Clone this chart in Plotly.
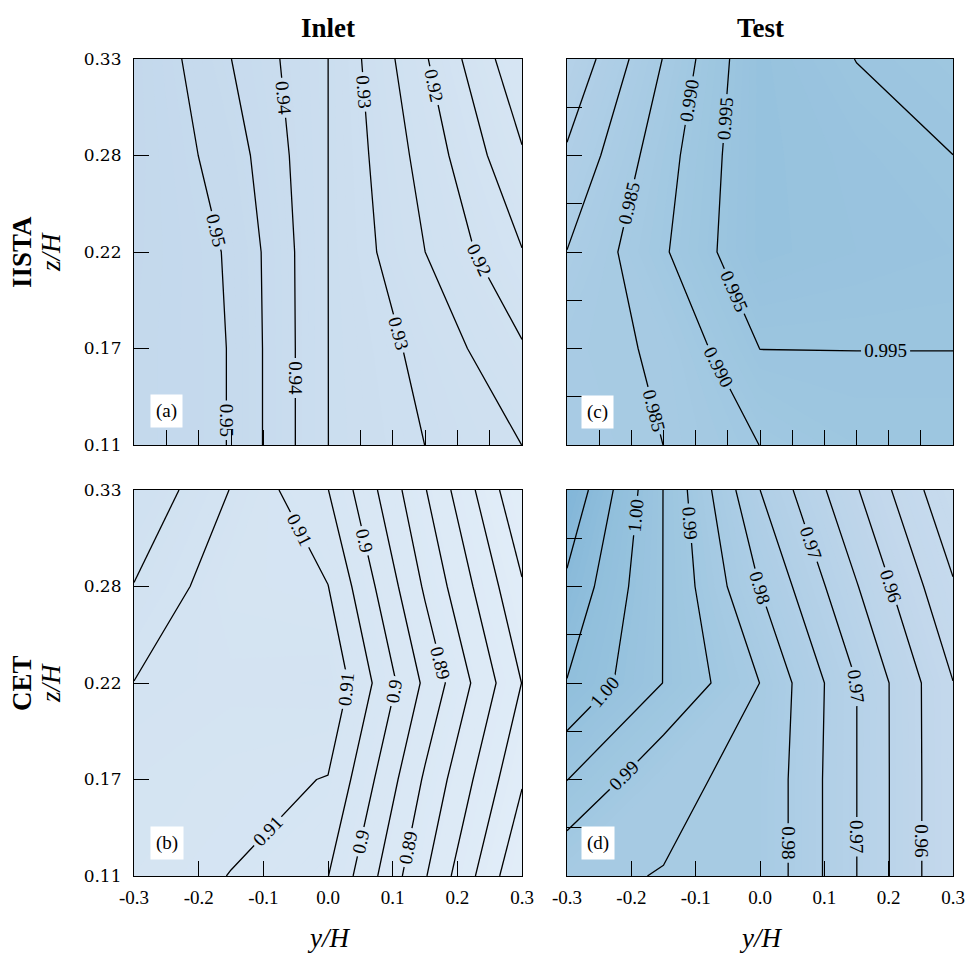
import plotly.graph_objects as go

# Measurement grid: spanwise position y/H (columns) and height z/H (rows)
y_pos = [-0.3, -0.15, 0.0, 0.15, 0.3]
z_pos = [0.11, 0.165, 0.22, 0.275, 0.33]

# Normalised velocity, one row per z/H level (bottom row first)
iista_inlet = [
    [0.9540, 0.9498, 0.93502, 0.92998, 0.92498],
    [0.9540, 0.9498, 0.93502, 0.92850, 0.92050],
    [0.9545, 0.9495, 0.93502, 0.92502, 0.91520],
    [0.9549, 0.9475, 0.93502, 0.92310, 0.91050],
    [0.9548, 0.94505, 0.93502, 0.92050, 0.90600],
]
cet_inlet = [
    [0.9120, 0.9099, 0.9051, 0.8854, 0.8654],
    [0.9130, 0.9115, 0.9098, 0.8893, 0.8705],
    [0.9149, 0.9135, 0.9142, 0.8940, 0.8749],
    [0.9198, 0.9115, 0.9101, 0.8893, 0.8705],
    [0.9245, 0.9148, 0.9051, 0.8853, 0.8654],
]
iista_test = [
    [0.9830, 0.98501, 0.99005, 0.99300, 0.99300],
    [0.9836, 0.98550, 0.99505, 0.99505, 0.99505],
    [0.9801, 0.98940, 0.99950, 0.99800, 0.99700],
    [0.9757, 0.98800, 0.99950, 0.99750, 0.99502],
    [0.9706, 0.98520, 0.99950, 0.99490, 0.99250],
]
cet_test = [
    [0.9855, 0.9849, 0.98410, 0.97005, 0.9552],
    [0.9951, 0.9858, 0.98410, 0.97005, 0.9552],
    [1.0048, 0.9949, 0.98495, 0.97005, 0.9551],
    [1.0090, 0.9949, 0.97990, 0.96530, 0.9505],
    [1.0143, 0.9949, 0.97502, 0.96040, 0.9455],
]

# Contour level sets: (start, end, step, labelled).
# Labelled sets run on past the data range; levels with no line still count
# towards plotly's label density, giving 2-3 labels per line.
levels_a = [(0.915, 0.945, 0.01, False), (0.91, 0.91, 0.01, False), (0.92, 1.61, 0.01, True)]
levels_b = [(0.875, 0.915, 0.01, False), (0.87, 0.88, 0.01, False), (0.89, 1.53, 0.01, True)]
levels_c = [(0.975, 0.98, 0.005, False), (0.985, 1.235, 0.005, True)]
levels_d = [(0.955, 1.005, 0.01, False), (0.95, 0.95, 0.01, False), (0.96, 1.55, 0.01, True)]

# Fine flood levels for the background shading
FLOOD_START, FLOOD_END, FLOOD_STEP = 0.860, 1.020, 0.001

# Axis ticks
y_ticks_major = [0.11, 0.165, 0.22, 0.275, 0.33]
y_tick_text = ["0.11", "0.17", "0.22", "0.28", "0.33"]
y_ticks_fine = [0.11, 0.1375, 0.165, 0.1925, 0.22, 0.2475, 0.275, 0.3025, 0.33]
x_ticks_fine = [-0.25, -0.2, -0.15, -0.1, -0.05, 0.0, 0.05, 0.1, 0.15, 0.2, 0.25]
x_ticks_major = [-0.3, -0.2, -0.1, 0.0, 0.1, 0.2, 0.3]
x_tick_text = ["-0.3", "-0.2", "-0.1", "0.0", "0.1", "0.2", "0.3"]

col_titles = ["Inlet", "Test"]
row_titles = ["IISTA", "CET"]
panel_tags = ["(a)", "(b)", "(c)", "(d)"]

fill_scale = [
    [0.0, "#e3eef9"],
    [0.30, "#d6e5f3"],
    [0.60, "#c3d8ec"],
    [0.7333, "#aecee6"],
    [0.8333, "#9dc6e0"],
    [0.90, "#91bfdc"],
    [1.0, "#78b0d6"],
]
C_MIN, C_MAX = 0.865, 1.015

SERIF = "Liberation Serif"

fig = go.Figure()


def add_panel(grid, levels, fmt, ax):
    xa = "x" + ("" if ax == 1 else str(ax))
    ya = "y" + ("" if ax == 1 else str(ax))
    # flood shading
    fig.add_trace(go.Contour(
        x=y_pos, y=z_pos, z=grid, autocontour=False, coloraxis="coloraxis",
        contours=dict(start=FLOOD_START, end=FLOOD_END, size=FLOOD_STEP,
                      coloring="fill", showlines=False),
        line=dict(width=0, smoothing=0),
        hoverinfo="skip", xaxis=xa, yaxis=ya))
    # isolines
    for start, end, step, labelled in levels:
        fig.add_trace(go.Contour(
            x=y_pos, y=z_pos, z=grid, autocontour=False,
            contours=dict(start=start, end=end, size=step, coloring="none",
                          showlabels=labelled, labelformat=fmt,
                          labelfont=dict(family=SERIF, size=19, color="black")),
            line=dict(color="black", width=1.3, smoothing=0),
            showscale=False, hoverinfo="skip", xaxis=xa, yaxis=ya))


# axis 1: top-left, 2: top-right, 3: bottom-left, 4: bottom-right
add_panel(iista_inlet, levels_a, ".2f", 1)
add_panel(iista_test, levels_c, ".3f", 2)
add_panel(cet_inlet, levels_b, ".2~f", 3)
add_panel(cet_test, levels_d, ".2f", 4)

W, H = 968, 966
ML, MR, MT, MB = 134, 15, 59, 90
PW, PH = W - ML - MR, H - MT - MB

left_dom = [0.0, (522 - ML) / PW]
right_dom = [(567 - ML) / PW, 1.0]
top_dom = [(876 - 445) / PH, 1.0]
bot_dom = [0.0, (876 - 490) / PH]

frame = dict(showline=True, mirror=True, linecolor="black", linewidth=1.2,
             showgrid=False, zeroline=False, ticks="inside", ticklen=15,
             tickwidth=1, tickcolor="black", automargin=False)

xaxis_common = dict(range=[-0.3, 0.3], **frame)
yaxis_common = dict(range=[0.11, 0.33], **frame)

x_lab_font = dict(family=SERIF, size=19, color="black")
y_lab_font = dict(family="DejaVu Serif", size=17, color="black")

fig.update_layout(
    width=W, height=H,
    margin=dict(l=ML, r=MR, t=MT, b=MB),
    paper_bgcolor="white", plot_bgcolor="white",
    showlegend=False,
    coloraxis=dict(colorscale=fill_scale, cmin=C_MIN, cmax=C_MAX, showscale=False),
    xaxis=dict(domain=left_dom, anchor="y", tickmode="array", tickvals=x_ticks_fine,
               showticklabels=False, **xaxis_common),
    yaxis=dict(domain=top_dom, anchor="x", tickmode="array", tickvals=y_ticks_major,
               ticktext=y_tick_text, tickfont=y_lab_font, ticklabelstandoff=8,
               **yaxis_common),
    xaxis2=dict(domain=right_dom, anchor="y2", tickmode="array", tickvals=x_ticks_fine,
                showticklabels=False, **xaxis_common),
    yaxis2=dict(domain=top_dom, anchor="x2", tickmode="array", tickvals=y_ticks_fine,
                showticklabels=False, **yaxis_common),
    xaxis3=dict(domain=left_dom, anchor="y3", tickmode="array", tickvals=x_ticks_major,
                ticktext=x_tick_text, tickfont=x_lab_font, ticklabelstandoff=4,
                **xaxis_common),
    yaxis3=dict(domain=bot_dom, anchor="x3", tickmode="array", tickvals=y_ticks_major,
                ticktext=y_tick_text, tickfont=y_lab_font, ticklabelstandoff=8,
                **yaxis_common),
    xaxis4=dict(domain=right_dom, anchor="y4", tickmode="array", tickvals=x_ticks_major,
                ticktext=x_tick_text, tickfont=x_lab_font, ticklabelstandoff=4,
                **xaxis_common),
    yaxis4=dict(domain=bot_dom, anchor="x4", tickmode="array", tickvals=y_ticks_fine,
                showticklabels=False, **yaxis_common),
)


def px_to_paper(px, py):
    return (px - ML) / PW, (H - MB - py) / PH


def label(text, px, py, size, angle=0, bg=None, pad=0):
    xp, yp = px_to_paper(px, py)
    fig.add_annotation(
        x=xp, y=yp, xref="paper", yref="paper", text=text, showarrow=False,
        xanchor="center", yanchor="middle", textangle=angle,
        font=dict(family=SERIF, size=size, color="black"),
        bgcolor=bg, borderpad=pad)


col_centres = [328, 760]
row_centres = [252, 683]

for cx, title in zip(col_centres, col_titles):
    label("<b>%s</b>" % title, cx, 28, 27)
    label("<i>y/H</i>", cx, 938, 27)

for cy, title in zip(row_centres, row_titles):
    label("<b>%s</b>" % title, 22, cy, 27, angle=-90)
    label("<i>z/H</i>", 51, cy, 27, angle=-90)

tag_pos = [(166, 411), (167, 843), (597, 412), (598, 843)]
for (tx, ty), tag in zip(tag_pos, panel_tags):
    label(tag, tx, ty, 19, bg="white", pad=5)

fig.write_html("out.html")
